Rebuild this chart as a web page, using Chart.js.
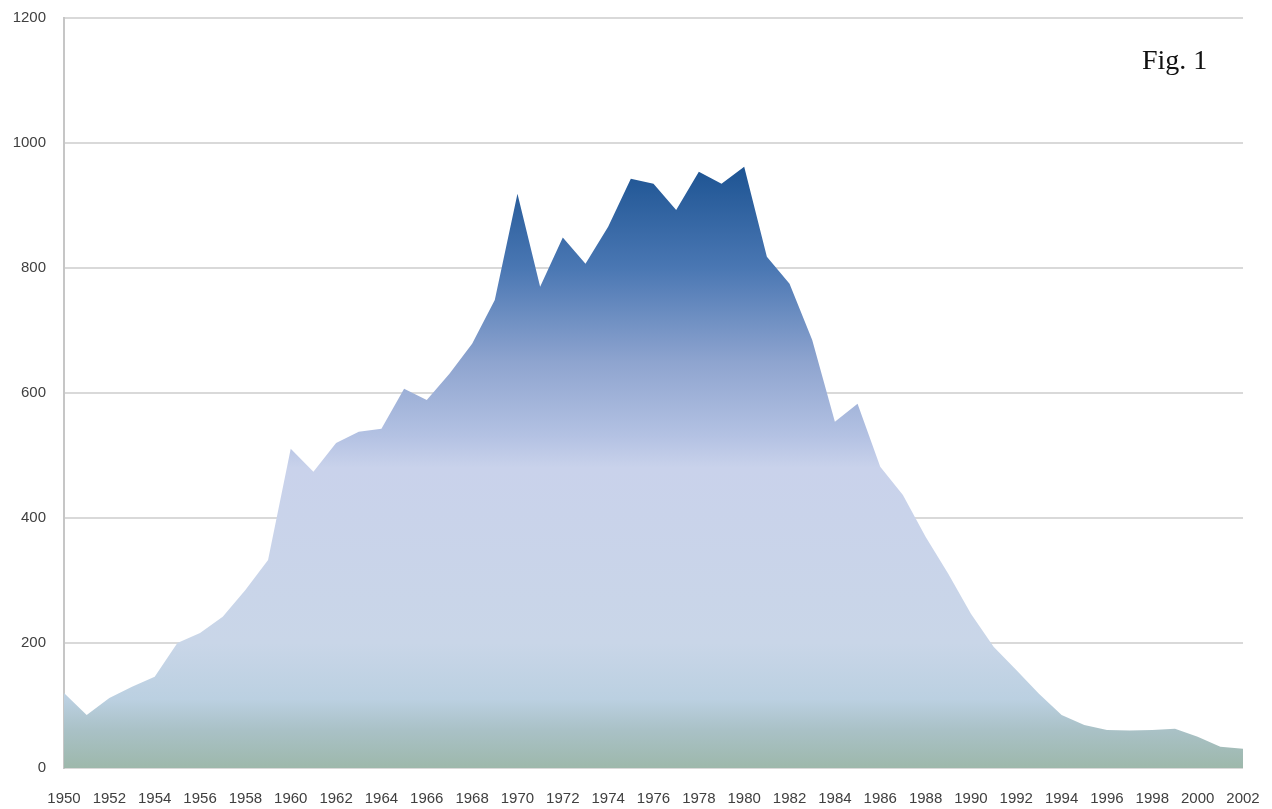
<!DOCTYPE html>
<html>
<head>
<meta charset="utf-8">
<script src="https://cdn.jsdelivr.net/npm/chart.js@4"></script>
<style>
  html, body { margin: 0; padding: 0; background: #fff; }
  #wrap { position: relative; width: 1272px; height: 809px; }
  #fig { position: absolute; left: 1142px; top: 44px; font-family: "Liberation Serif", serif; font-size: 28px; color: #111; }
</style>
</head>
<body>
<div id="wrap">
  <canvas id="chart" width="1272" height="809"></canvas>
  <div id="fig">Fig. 1</div>
</div>
<script>
// years 1950..2002
const years = [];
for (let y = 1950; y <= 2002; y++) years.push(String(y));

const values = [
  120, 85, 112, 130, 146, 200, 216, 242, 285, 333,
  511, 474, 520, 538, 543, 607, 589, 631, 679, 749,
  919, 770, 849, 807, 866, 943, 935, 893, 954, 935,
  962, 818, 775, 685, 554, 583, 482, 437, 370, 311,
  247, 194, 157, 119, 85, 69, 61, 60, 61, 63,
  50, 34, 31
];

const yTicks = [0, 200, 400, 600, 800, 1000, 1200];

// gradient stops keyed by value
const gradStops = [
  [970, '#1b5291'], [800, '#4a77b3'], [650, '#8ea4cf'], [530, '#b4c2e3'],
  [480, '#c9d2eb'], [200, '#c9d6e8'], [110, '#bbd0e1'], [60, '#a9c1c6'], [0, '#9db8ab']
];

function areaFill(context) {
  const chart = context.chart;
  const { ctx, chartArea, scales } = chart;
  if (!chartArea) return '#c9d6e8';
  const top = scales.y.getPixelForValue(gradStops[0][0]);
  const bottom = scales.y.getPixelForValue(0);
  const g = ctx.createLinearGradient(0, top, 0, bottom);
  gradStops.forEach(([v, c]) => {
    const p = (scales.y.getPixelForValue(v) - top) / (bottom - top);
    g.addColorStop(Math.min(1, Math.max(0, p)), c);
  });
  return g;
}

new Chart(document.getElementById('chart').getContext('2d'), {
  type: 'line',
  data: {
    labels: years,
    datasets: [{
      data: values,
      fill: 'origin',
      backgroundColor: areaFill,
      borderWidth: 0,
      pointRadius: 0,
      tension: 0
    }]
  },
  options: {
    responsive: false,
    animation: false,
    layout: { padding: { top: 18, right: 29, left: 0, bottom: 0 } },
    plugins: { legend: { display: false }, tooltip: { enabled: false } },
    scales: {
      x: {
        offset: false,
        grid: { display: false, drawTicks: false },
        border: { display: false },
        afterFit: (s) => { s.height = 41; s.paddingLeft = 0; s.paddingRight = 0; },
        ticks: {
          autoSkip: false,
          maxRotation: 0,
          padding: 22,
          color: '#404040',
          font: { family: 'Liberation Sans', size: 15 },
          callback: function (v, i) { return i % 2 === 0 ? years[i] : ''; }
        }
      },
      y: {
        min: 0,
        max: 1200,
        afterFit: (s) => { s.width = 64; s.paddingTop = 0; s.paddingBottom = 0; },
        afterBuildTicks: (s) => { s.ticks = yTicks.map(v => ({ value: v })); },
        grid: { color: '#d9d9d9', lineWidth: 2, drawTicks: false },
        border: { display: true, color: '#c6c6c6', width: 2 },
        ticks: {
          padding: 18,
          color: '#404040',
          font: { family: 'Liberation Sans', size: 15 },
          callback: (v) => String(v)
        }
      }
    }
  }
});
</script>
</body>
</html>
